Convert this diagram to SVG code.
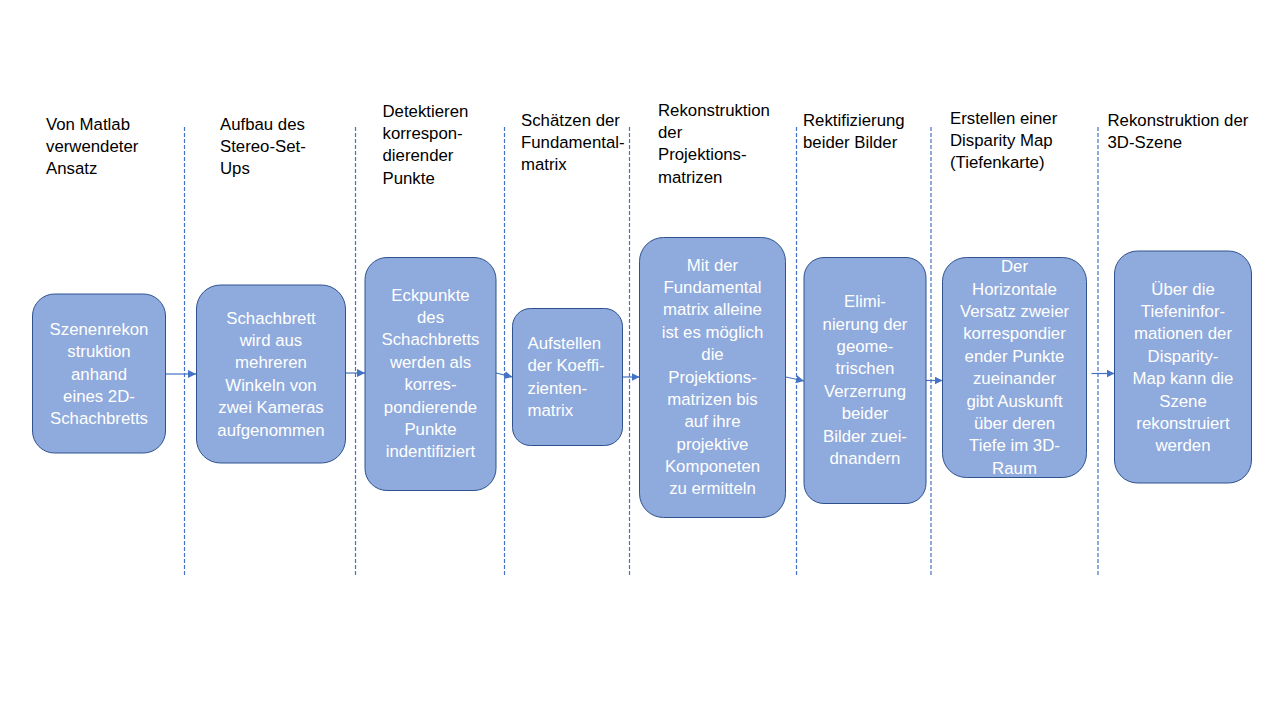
<svg xmlns="http://www.w3.org/2000/svg" width="1280" height="720" viewBox="0 0 1280 720">
<defs>
<style>
.bg{fill:#FFFFFF}
.sep{stroke:#4472C4;stroke-width:1.2;stroke-dasharray:4 2;fill:none}
.box{fill:#8FAADC;stroke:#2F528F;stroke-width:1}
.hd{font-family:"Liberation Sans",Arial,sans-serif;font-size:16.8px;fill:#000000}
.bt{font-family:"Liberation Sans",Arial,sans-serif;font-size:16.8px;fill:#FFFFFF;text-anchor:middle}
.bl{font-family:"Liberation Sans",Arial,sans-serif;font-size:16.8px;fill:#FFFFFF}
.con{stroke:#4472C4;stroke-width:1.2;fill:none;marker-end:url(#ah)}
</style>
<marker id="ah" markerUnits="userSpaceOnUse" markerWidth="8" markerHeight="8" refX="8" refY="4" orient="auto">
<path d="M0,0 L8,4 L0,8 z" fill="#4472C4"/>
</marker>
</defs>
<rect class="bg" x="0" y="0" width="1280" height="720"/>

<g id="separators">
<line class="sep" x1="184.5" y1="127" x2="184.5" y2="577"/>
<line class="sep" x1="355.5" y1="127" x2="355.5" y2="577"/>
<line class="sep" x1="504.5" y1="127" x2="504.5" y2="577"/>
<line class="sep" x1="629.5" y1="127" x2="629.5" y2="577"/>
<line class="sep" x1="796.5" y1="127" x2="796.5" y2="577"/>
<line class="sep" x1="931" y1="127" x2="931" y2="577"/>
<line class="sep" x1="1098" y1="127" x2="1098" y2="577"/>
</g>

<g id="headers">
<text class="hd" x="46" y="129.5"><tspan x="46">Von Matlab</tspan><tspan x="46" dy="22.4">verwendeter</tspan><tspan x="46" dy="22.4">Ansatz</tspan></text>
<text class="hd" x="220" y="129.5"><tspan x="220">Aufbau des</tspan><tspan x="220" dy="22.4">Stereo-Set-</tspan><tspan x="220" dy="22.4">Ups</tspan></text>
<text class="hd" x="382.5" y="116.5"><tspan x="382.5">Detektieren</tspan><tspan x="382.5" dy="22.4">korrespon-</tspan><tspan x="382.5" dy="22.4">dierender</tspan><tspan x="382.5" dy="22.4">Punkte</tspan></text>
<text class="hd" x="521" y="125.5"><tspan x="521">Schätzen der</tspan><tspan x="521" dy="22.4">Fundamental-</tspan><tspan x="521" dy="22.4">matrix</tspan></text>
<text class="hd" x="658" y="115.5"><tspan x="658">Rekonstruktion</tspan><tspan x="658" dy="22.4">der</tspan><tspan x="658" dy="22.4">Projektions-</tspan><tspan x="658" dy="22.4">matrizen</tspan></text>
<text class="hd" x="803" y="125.5"><tspan x="803">Rektifizierung</tspan><tspan x="803" dy="22.4">beider Bilder</tspan></text>
<text class="hd" x="950" y="123.5"><tspan x="950">Erstellen einer</tspan><tspan x="950" dy="22.4">Disparity Map</tspan><tspan x="950" dy="22.4">(Tiefenkarte)</tspan></text>
<text class="hd" x="1107.5" y="125.5"><tspan x="1107.5">Rekonstruktion der</tspan><tspan x="1107.5" dy="22.4">3D-Szene</tspan></text>
</g>

<g id="connectors">
<line class="con" x1="165.5" y1="374" x2="196" y2="374"/>
<line class="con" x1="345.5" y1="373" x2="365" y2="373"/>
<line class="con" x1="496" y1="373" x2="512.5" y2="377"/>
<line class="con" x1="622.5" y1="377" x2="639.5" y2="377"/>
<line class="con" x1="786" y1="377" x2="804" y2="381"/>
<line class="con" x1="926" y1="380.5" x2="942.5" y2="380.5"/>
<line class="con" x1="1091.5" y1="373.5" x2="1114.5" y2="373.5"/>
</g>

<g id="node1">
<rect class="box" x="32.5" y="294" width="133" height="159" rx="22"/>
<text class="bt" x="99" y="334.7"><tspan x="99">Szenenrekon</tspan><tspan x="99" dy="22.4">struktion</tspan><tspan x="99" dy="22.4">anhand</tspan><tspan x="99" dy="22.4">eines 2D-</tspan><tspan x="99" dy="22.4">Schachbretts</tspan></text>
</g>
<g id="node2">
<rect class="box" x="196.5" y="285" width="149" height="178" rx="24"/>
<text class="bt" x="271" y="323.5"><tspan x="271">Schachbrett</tspan><tspan x="271" dy="22.4">wird aus</tspan><tspan x="271" dy="22.4">mehreren</tspan><tspan x="271" dy="22.4">Winkeln von</tspan><tspan x="271" dy="22.4">zwei Kameras</tspan><tspan x="271" dy="22.4">aufgenommen</tspan></text>
</g>
<g id="node3">
<rect class="box" x="365" y="257.5" width="131" height="233" rx="22"/>
<text class="bt" x="430.5" y="300.6"><tspan x="430.5">Eckpunkte</tspan><tspan x="430.5" dy="22.4">des</tspan><tspan x="430.5" dy="22.4">Schachbretts</tspan><tspan x="430.5" dy="22.4">werden als</tspan><tspan x="430.5" dy="22.4">korres-</tspan><tspan x="430.5" dy="22.4">pondierende</tspan><tspan x="430.5" dy="22.4">Punkte</tspan><tspan x="430.5" dy="22.4">indentifiziert</tspan></text>
</g>
<g id="node4">
<rect class="box" x="512.5" y="308.5" width="110" height="137" rx="18"/>
<text class="bl" x="527.5" y="348.9"><tspan x="527.5">Aufstellen</tspan><tspan x="527.5" dy="22.4">der Koeffi-</tspan><tspan x="527.5" dy="22.4">zienten-</tspan><tspan x="527.5" dy="22.4">matrix</tspan></text>
</g>
<g id="node5">
<rect class="box" x="639.5" y="237.5" width="146" height="280" rx="24"/>
<text class="bt" x="712.5" y="270.5"><tspan x="712.5">Mit der</tspan><tspan x="712.5" dy="22.4">Fundamental</tspan><tspan x="712.5" dy="22.4">matrix alleine</tspan><tspan x="712.5" dy="22.4">ist es möglich</tspan><tspan x="712.5" dy="22.4">die</tspan><tspan x="712.5" dy="22.4">Projektions-</tspan><tspan x="712.5" dy="22.4">matrizen bis</tspan><tspan x="712.5" dy="22.4">auf ihre</tspan><tspan x="712.5" dy="22.4">projektive</tspan><tspan x="712.5" dy="22.4">Komponeten</tspan><tspan x="712.5" dy="22.4">zu ermitteln</tspan></text>
</g>
<g id="node6">
<rect class="box" x="804" y="257.5" width="122" height="246" rx="20"/>
<text class="bt" x="865" y="307.1"><tspan x="865">Elimi-</tspan><tspan x="865" dy="22.4">nierung der</tspan><tspan x="865" dy="22.4">geome-</tspan><tspan x="865" dy="22.4">trischen</tspan><tspan x="865" dy="22.4">Verzerrung</tspan><tspan x="865" dy="22.4">beider</tspan><tspan x="865" dy="22.4">Bilder zuei-</tspan><tspan x="865" dy="22.4">dnandern</tspan></text>
</g>
<g id="node7">
<rect class="box" x="942.5" y="257.5" width="144" height="220" rx="24"/>
<text class="bt" x="1014.5" y="272.2"><tspan x="1014.5">Der</tspan><tspan x="1014.5" dy="22.4">Horizontale</tspan><tspan x="1014.5" dy="22.4">Versatz zweier</tspan><tspan x="1014.5" dy="22.4">korrespondier</tspan><tspan x="1014.5" dy="22.4">ender Punkte</tspan><tspan x="1014.5" dy="22.4">zueinander</tspan><tspan x="1014.5" dy="22.4">gibt Auskunft</tspan><tspan x="1014.5" dy="22.4">über deren</tspan><tspan x="1014.5" dy="22.4">Tiefe im 3D-</tspan><tspan x="1014.5" dy="22.4">Raum</tspan></text>
</g>
<g id="node8">
<rect class="box" x="1114.5" y="251" width="137" height="232" rx="23"/>
<text class="bt" x="1183" y="294.6"><tspan x="1183">Über die</tspan><tspan x="1183" dy="22.4">Tiefeninfor-</tspan><tspan x="1183" dy="22.4">mationen der</tspan><tspan x="1183" dy="22.4">Disparity-</tspan><tspan x="1183" dy="22.4">Map kann die</tspan><tspan x="1183" dy="22.4">Szene</tspan><tspan x="1183" dy="22.4">rekonstruiert</tspan><tspan x="1183" dy="22.4">werden</tspan></text>
</g>
</svg>
